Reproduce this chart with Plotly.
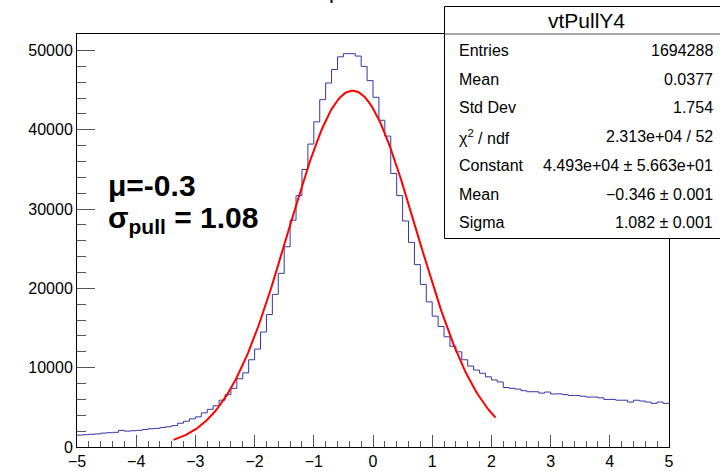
import numpy as np
import plotly.graph_objects as go

# Histogram: 100 bins of width 0.1 between -5 and 5 (entries per bin)
bin_lo = -5.0
bin_width = 0.1
counts = [
    1500, 1550, 1600, 1650, 1750, 1800, 1850, 2100, 2000, 2050,
    2100, 2200, 2300, 2350, 2450, 2550, 2700, 3000, 3250, 3550,
    3800, 4300, 4750, 5200, 5900, 6600, 7400, 8600, 9350, 11000,
    12350, 14500, 16700, 19250, 21900, 25250, 28600, 31700, 35000, 38200,
    41000, 43800, 45900, 47600, 49200, 49600, 49600, 49300, 48000, 46200,
    44100, 41200, 39200, 34500, 31700, 28500, 25800, 23000, 20500, 18300,
    16500, 15200, 13900, 12700, 12000, 11000, 10200, 9700, 9300, 8850,
    8450, 8200, 7500, 7400, 7300, 7100, 6970, 6970, 6800, 6930,
    6680, 6700, 6600, 6500, 6500, 6400, 6300, 6300, 6200, 6000,
    6000, 5900, 5900, 5670, 5900, 5800, 5670, 5500, 5670, 5500,
]

# Gaussian fit parameters and fit range
fit_const = 4.493e4
fit_mean = -0.346
fit_sigma = 1.082
fit_range = (-3.37, 2.07)

# Stats box entries
stats_title = "vtPullY4"
stats_labels = ["Entries", "Mean", "Std Dev", "χ<sup>2</sup> / ndf",
                "Constant", "Mean", "Sigma"]
stats_values = ["1694288", "0.0377", "1.754", "2.313e+04 / 52",
                "4.493e+04 ± 5.663e+01", "−0.346 ± 0.001", "1.082 ± 0.001"]

x_ticks = [-5, -4, -3, -2, -1, 0, 1, 2, 3, 4, 5]
y_ticks = [0, 10000, 20000, 30000, 40000, 50000]

W, H = 720, 471
L, R, T, B = 77, 51, 34, 24
pw, ph = W - L - R, H - T - B


def px(x):
    return (x - L) / pw


def py(y):
    return (H - B - y) / ph


# step outline of the histogram
edges = [bin_lo + i * bin_width for i in range(len(counts) + 1)]
hx = edges
hy = counts + [counts[-1]]

fx = np.linspace(fit_range[0], fit_range[1], 200)
fy = fit_const * np.exp(-0.5 * ((fx - fit_mean) / fit_sigma) ** 2)

fig = go.Figure()
fig.add_trace(go.Scatter(x=hx, y=hy, mode="lines", line_shape="hv",
                         line=dict(color="#3535a8", width=1),
                         hoverinfo="skip", showlegend=False))
fig.add_trace(go.Scatter(x=fx, y=fy, mode="lines",
                         line=dict(color="#ff0000", width=2),
                         hoverinfo="skip", showlegend=False))

font_family = "Liberation Sans, Arial, sans-serif"

axis_common = dict(
    showline=True, linecolor="black", linewidth=1, mirror=True,
    ticks="inside", tickcolor="#555555", showgrid=False, zeroline=False,
    automargin=False,
    tickfont=dict(family=font_family, size=16, color="black"),
)
fig.update_xaxes(range=[-5, 5], tickvals=x_ticks,
                 ticktext=[str(v).replace("-", "−") for v in x_ticks],
                 ticklen=12, tickwidth=1,
                 minor=dict(dtick=0.2, ticklen=6, ticks="inside",
                            tickcolor="#555555", showgrid=False),
                 **axis_common)
fig.update_yaxes(range=[0, 52080], tickvals=y_ticks,
                 ticktext=[str(v) for v in y_ticks],
                 ticklen=18, tickwidth=1,
                 minor=dict(dtick=2000, ticklen=9, ticks="inside",
                            tickcolor="#555555", showgrid=False),
                 **axis_common)

shapes = []
annotations = []

# stats box
bx0, bx1, by0, by1 = 444.5, 721, 6.5, 238.5
shapes.append(dict(type="rect", xref="paper", yref="paper",
                   x0=px(bx0), x1=px(bx1), y0=py(by1), y1=py(by0),
                   line=dict(color="black", width=1), fillcolor="white",
                   layer="above"))
shapes.append(dict(type="line", xref="paper", yref="paper",
                   x0=px(bx0), x1=px(bx1), y0=py(34), y1=py(34),
                   line=dict(color="#555555", width=1), layer="above"))
annotations.append(dict(xref="paper", yref="paper", x=px(586), y=py(21),
                        text=stats_title, showarrow=False,
                        xanchor="center", yanchor="middle",
                        font=dict(family=font_family, size=21, color="black")))
row_y = [50.5, 79.3, 107.5, 136.7, 165.3, 194.3, 222.5]
for lab, val, yy in zip(stats_labels, stats_values, row_y):
    annotations.append(dict(xref="paper", yref="paper", x=px(457), y=py(yy),
                            text=lab, showarrow=False, xanchor="left",
                            yanchor="middle",
                            font=dict(family=font_family, size=16, color="black")))
    annotations.append(dict(xref="paper", yref="paper", x=px(715), y=py(yy),
                            text=val, showarrow=False, xanchor="right",
                            yanchor="middle",
                            font=dict(family=font_family, size=16, color="black")))

# fit summary labels
annotations.append(dict(xref="paper", yref="paper", x=px(106), y=py(186),
                        text="<b>μ=-0.3</b>", showarrow=False,
                        xanchor="left", yanchor="middle",
                        font=dict(family=font_family, size=30, color="black")))
annotations.append(dict(xref="paper", yref="paper", x=px(106), y=py(219),
                        text="<b>σ<sub>pull</sub> = 1.08</b>", showarrow=False,
                        xanchor="left", yanchor="middle",
                        font=dict(family=font_family, size=30, color="black")))

# pad title (sits at the very top edge of the canvas)
annotations.append(dict(xref="paper", yref="paper", x=px(327), y=py(5),
                        text="pull", showarrow=False,
                        xanchor="left", yanchor="bottom",
                        font=dict(family=font_family, size=22, color="black")))

fig.update_layout(
    width=W, height=H,
    margin=dict(l=L, r=R, t=T, b=B),
    paper_bgcolor="white", plot_bgcolor="white",
    shapes=shapes, annotations=annotations,
    showlegend=False,
)

fig.write_html("out.html")
